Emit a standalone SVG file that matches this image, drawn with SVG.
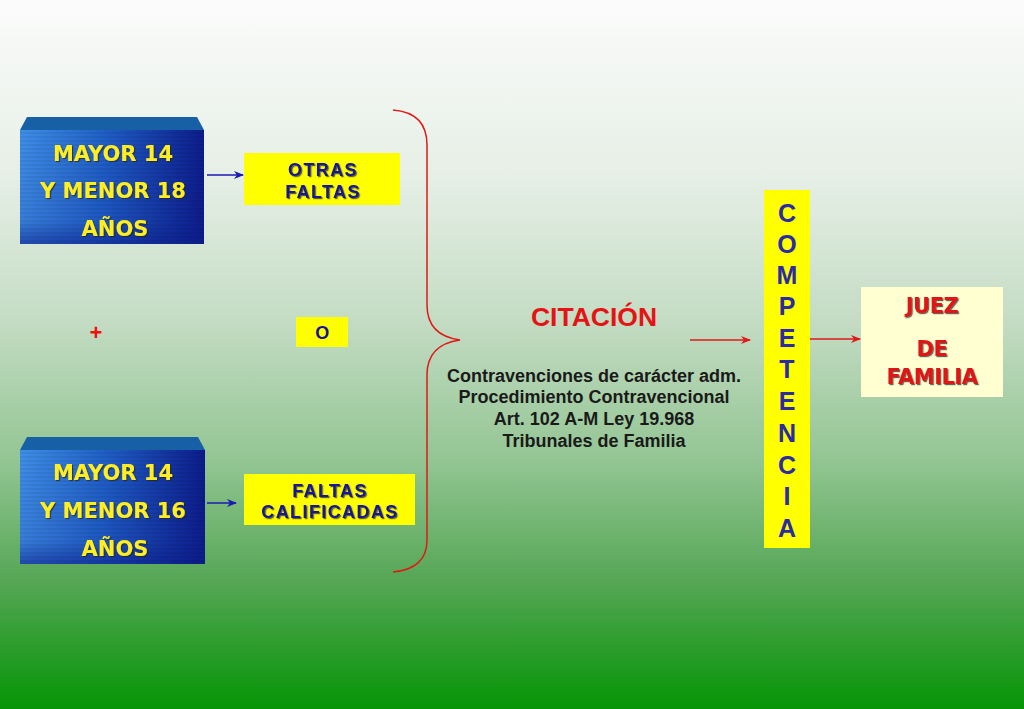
<svg xmlns="http://www.w3.org/2000/svg" width="1024" height="709" viewBox="0 0 1024 709">
<defs>
<linearGradient id="bg" x1="0" y1="0" x2="0" y2="1">
<stop offset="0" stop-color="#fbfbfb"/>
<stop offset="0.25" stop-color="#e6efe6"/>
<stop offset="0.45" stop-color="#c4dcc4"/>
<stop offset="0.65" stop-color="#93c593"/>
<stop offset="0.82" stop-color="#55a655"/>
<stop offset="1" stop-color="#069506"/>
</linearGradient>
<linearGradient id="front" x1="0" y1="0" x2="1" y2="0">
<stop offset="0" stop-color="#3f8fe6"/>
<stop offset="0.45" stop-color="#2060c8"/>
<stop offset="1" stop-color="#0c1c8a"/>
</linearGradient>
<linearGradient id="frontV" x1="0" y1="0" x2="0" y2="1">
<stop offset="0" stop-color="#0c1c8a" stop-opacity="0"/>
<stop offset="0.8" stop-color="#0c1c8a" stop-opacity="0.15"/>
<stop offset="1" stop-color="#0c1c8a" stop-opacity="0.6"/>
</linearGradient>
<pattern id="bands" width="4" height="4" patternUnits="userSpaceOnUse">
<rect width="4" height="2" fill="#000" fill-opacity="0.06"/>
</pattern>
<filter id="sh" x="-10%" y="-10%" width="130%" height="140%">
<feDropShadow dx="1.2" dy="1.2" stdDeviation="0.3" flood-color="#222" flood-opacity="0.7"/>
</filter>
<marker id="ab" markerWidth="10" markerHeight="8" refX="9" refY="4" orient="auto" markerUnits="userSpaceOnUse">
<path d="M0,0 L10,4 L0,8 L3,4 Z" fill="#1a1ab4"/>
</marker>
<marker id="ar" markerWidth="10" markerHeight="8" refX="9" refY="4" orient="auto" markerUnits="userSpaceOnUse">
<path d="M0,0 L10,4 L0,8 L3,4 Z" fill="#e01818"/>
</marker>
</defs>
<style>
.yt{font-family:"DejaVu Sans",Verdana,sans-serif;font-weight:bold;font-size:21px;fill:#ffee22;text-anchor:middle}
.bt{font-family:"Liberation Sans",Arial,sans-serif;font-weight:bold;font-size:18px;letter-spacing:1.4px;fill:#12129c;text-anchor:middle}
.ybox{fill:#ffff00}
.top{fill:#1760a6}
.ct{font-family:"Liberation Sans",Arial,sans-serif;font-weight:bold;font-size:18px;fill:#1a1a1a;text-anchor:middle}
.comp{font-family:"Liberation Sans",Arial,sans-serif;font-weight:bold;font-size:25px;fill:#2b2ba4;text-anchor:middle}
.jt{font-family:"DejaVu Sans",Tahoma,sans-serif;font-weight:bold;font-size:21px;fill:#e01414;text-anchor:middle;letter-spacing:-0.5px}
.bl{stroke:#1a1ab4;stroke-width:1.5;fill:none}
.rl{stroke:#e01818;stroke-width:1.5;fill:none}
</style>
<rect width="1024" height="709" fill="url(#bg)"/>

<g id="box1">
<polygon class="top" points="20,130 27,117 197,117 204,130"/>
<rect x="20" y="130" width="184" height="114" fill="url(#front)"/>
<rect x="20" y="130" width="184" height="114" fill="url(#frontV)"/>
<rect x="20" y="130" width="184" height="114" fill="url(#bands)"/>
<g filter="url(#sh)">
<text class="yt" x="113" y="161">MAYOR 14</text>
<text class="yt" x="113" y="198">Y MENOR 18</text>
<text class="yt" x="115" y="236">AÑOS</text>
</g>
</g>

<g id="box2">
<polygon class="top" points="20,450 27,437 198,437 205,450"/>
<rect x="20" y="450" width="185" height="114" fill="url(#front)"/>
<rect x="20" y="450" width="185" height="114" fill="url(#frontV)"/>
<rect x="20" y="450" width="185" height="114" fill="url(#bands)"/>
<g filter="url(#sh)">
<text class="yt" x="113" y="480">MAYOR 14</text>
<text class="yt" x="113" y="518">Y MENOR 16</text>
<text class="yt" x="115" y="556">AÑOS</text>
</g>
</g>

<g id="otras">
<rect class="ybox" x="244" y="153" width="156" height="52"/>
<g filter="url(#sh)">
<text class="bt" x="323" y="176">OTRAS</text>
<text class="bt" x="323" y="198">FALTAS</text>
</g>
</g>

<g id="calificadas">
<rect class="ybox" x="244" y="474" width="171" height="51"/>
<g filter="url(#sh)">
<text class="bt" x="330" y="497">FALTAS</text>
<text class="bt" x="330" y="518">CALIFICADAS</text>
</g>
</g>

<g id="plus">
<text x="96" y="340" font-family="Liberation Sans,Arial,sans-serif" font-weight="bold" font-size="22px" fill="#ee1111" text-anchor="middle">+</text>
</g>

<g id="o">
<rect class="ybox" x="296" y="317" width="52" height="30"/>
<text class="bt" x="323" y="339">O</text>
</g>

<g id="citacion">
<text x="594" y="326" font-family="Liberation Sans,Arial,sans-serif" font-weight="bold" font-size="26.5px" fill="#e51414" text-anchor="middle">CITACIÓN</text>
<text class="ct" x="594" y="382">Contravenciones de carácter adm.</text>
<text class="ct" x="594" y="403">Procedimiento Contravencional</text>
<text class="ct" x="594" y="425">Art. 102 A-M Ley 19.968</text>
<text class="ct" x="594" y="447">Tribunales de Familia</text>
</g>

<g id="competencia">
<rect class="ybox" x="764" y="190" width="46" height="358"/>
<text class="comp" x="787" y="222">C</text>
<text class="comp" x="787" y="253">O</text>
<text class="comp" x="787" y="284">M</text>
<text class="comp" x="787" y="315">P</text>
<text class="comp" x="787" y="347">E</text>
<text class="comp" x="787" y="378">T</text>
<text class="comp" x="787" y="410">E</text>
<text class="comp" x="787" y="442">N</text>
<text class="comp" x="787" y="474">C</text>
<text class="comp" x="787" y="505">I</text>
<text class="comp" x="787" y="537">A</text>
</g>

<g id="juez">
<rect x="861" y="287" width="142" height="110" fill="#ffffd2"/>
<g filter="url(#sh)">
<text class="jt" x="932" y="313">JUEZ</text>
<text class="jt" x="932" y="356">DE</text>
<text class="jt" x="932" y="384">FAMILIA</text>
</g>
</g>

<g id="connectors">
<line class="bl" x1="207" y1="175" x2="243" y2="175" marker-end="url(#ab)"/>
<line class="bl" x1="207" y1="503" x2="236" y2="503" marker-end="url(#ab)"/>
<path class="rl" d="M393,110 C418,112 427,125 427,145 L427,305 C427,325 438,337 460,340 C438,343 427,355 427,375 L427,540 C427,560 415,570 393,572"/>
<line class="rl" x1="690" y1="340" x2="750" y2="340" marker-end="url(#ar)"/>
<line class="rl" x1="810" y1="339" x2="860" y2="339" marker-end="url(#ar)"/>
</g>
</svg>
